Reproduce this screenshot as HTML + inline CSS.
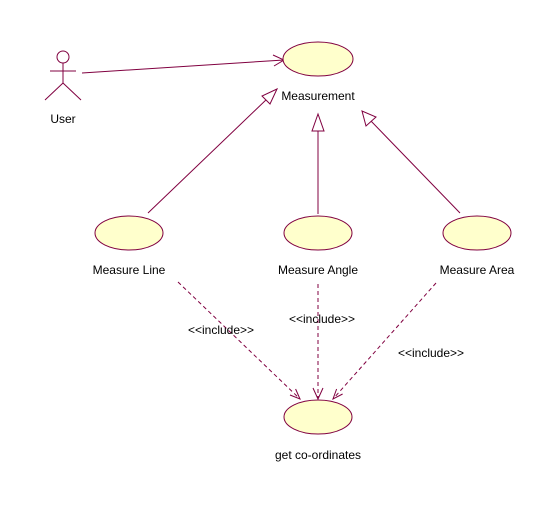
<!DOCTYPE html>
<html><head><style>body{margin:0;background:#fff}svg{display:block}</style></head><body>
<svg width="551" height="514" xmlns="http://www.w3.org/2000/svg" font-family="Liberation Sans, sans-serif" font-size="12" fill="#000">
<rect width="551" height="514" fill="#fff"/>
<g stroke="#800040" stroke-width="1" fill="none">
<circle cx="63" cy="57" r="6"/>
<line x1="63" y1="63" x2="63" y2="83"/>
<line x1="50" y1="71" x2="76" y2="71"/>
<line x1="63" y1="83" x2="45" y2="100"/>
<line x1="63" y1="83" x2="81" y2="100"/>
<line x1="82" y1="73" x2="284" y2="60"/>
<polyline points="273,55 284,60 274,66"/>
<line x1="148" y1="213" x2="268" y2="98"/>
<polygon points="277,89 262,96 270,104" fill="#fff"/>
<line x1="318" y1="214" x2="318" y2="131"/>
<polygon points="318,114 312,131 324,131" fill="#fff"/>
<line x1="460" y1="213" x2="370" y2="120"/>
<polygon points="362,111 366,126 376,117" fill="#fff"/>
<g stroke-dasharray="4,3">
<line x1="178" y1="282" x2="300" y2="399"/>
<line x1="318" y1="284" x2="318" y2="399"/>
<line x1="436" y1="283" x2="333" y2="399"/>
</g>
<polyline points="295.6,389 300,399 290,395"/>
<polyline points="313,388 318,399 323,388"/>
<polyline points="336.6,389 333,399 342.6,394"/>
</g>
<g fill="#ffffcc" stroke="#800040">
<ellipse cx="318" cy="59" rx="35" ry="17"/>
<ellipse cx="129" cy="233" rx="34" ry="17"/>
<ellipse cx="318" cy="233" rx="34" ry="17"/>
<ellipse cx="477" cy="233" rx="34" ry="17"/>
<ellipse cx="318" cy="417" rx="34" ry="17"/>
</g>
<text x="63" y="123" text-anchor="middle">User</text>
<text x="318" y="100" text-anchor="middle">Measurement</text>
<text x="129" y="274" text-anchor="middle">Measure Line</text>
<text x="318" y="274" text-anchor="middle">Measure Angle</text>
<text x="477" y="274" text-anchor="middle">Measure Area</text>
<text x="318" y="459" text-anchor="middle">get co-ordinates</text>
<text x="221" y="334" text-anchor="middle">&lt;&lt;include&gt;&gt;</text>
<text x="322" y="323" text-anchor="middle">&lt;&lt;include&gt;&gt;</text>
<text x="431" y="357" text-anchor="middle">&lt;&lt;include&gt;&gt;</text>
</svg>
</body></html>
